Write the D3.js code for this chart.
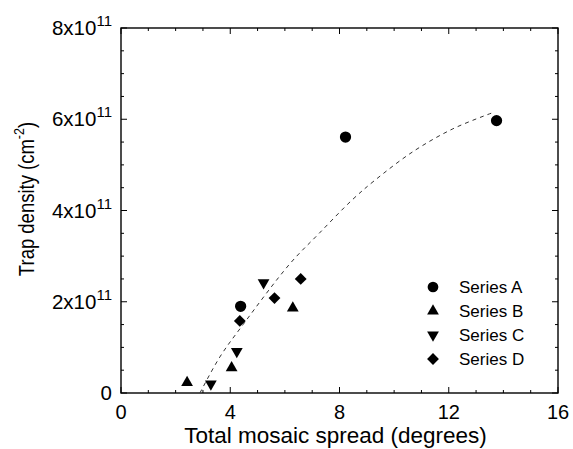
<!DOCTYPE html>
<html>
<head>
<meta charset="utf-8">
<script src="https://cdn.jsdelivr.net/npm/d3@7"></script>
<style>
  body { margin: 0; background: #fff; }
  text { font-family: "Liberation Sans", Arial, sans-serif; fill: #000; }
</style>
</head>
<body>
<div id="container"></div>
<script>
const width = 573, height = 449

const margin = { left: 121, top: 28, right: 15, bottom: 56 }

// values in units of 1e11 cm^-2
const seriesNames = ["Series A", "Series B", "Series C", "Series D"]
const seriesA = [[4.38, 1.90], [8.22, 5.61], [13.75, 5.97]]
const seriesB = [[2.42, 0.23], [4.05, 0.55], [6.29, 1.86]]
const seriesC = [[3.29, 0.20], [4.24, 0.91], [5.22, 2.42]]
const seriesD = [[4.35, 1.58], [5.62, 2.08], [6.58, 2.50]]
const fitCurve = [[2.89, 0], [3.62, 0.79], [4.47, 1.50], [6.18, 2.83], [7.24, 3.49],
    [8.46, 4.23], [9.29, 4.66], [10.69, 5.29], [12.15, 5.79], [13.59, 6.14]]

const xTicks = [0, 4, 8, 12, 16]
const yTicks = [0, 2, 4, 6, 8]

const svg = d3.select('#container').append('svg')
    .attr('width', width).attr('height', height)

const x = d3.scaleLinear().domain([0, 16]).range([margin.left, width - margin.right])
const y = d3.scaleLinear().domain([0, 8]).range([height - margin.bottom, margin.top])

// frame
svg.append('rect')
    .attr('x', x(0)).attr('y', y(8))
    .attr('width', x(16) - x(0)).attr('height', y(0) - y(8))
    .attr('fill', 'none').attr('stroke', '#000').attr('stroke-width', 1.4)

// ticks, inside on all four sides
const xMinor = d3.range(0, 16.01, 1)
const yMinor = d3.range(0, 8.01, 0.5)
xMinor.forEach(v => {
    const len = xTicks.includes(v) ? 6 : 3
    svg.append('line').attr('x1', x(v)).attr('x2', x(v))
        .attr('y1', y(0)).attr('y2', y(0) - len).attr('stroke', '#000')
    svg.append('line').attr('x1', x(v)).attr('x2', x(v))
        .attr('y1', y(8)).attr('y2', y(8) + len).attr('stroke', '#000')
})
yMinor.forEach(v => {
    const len = yTicks.includes(v) ? 6 : 3
    svg.append('line').attr('y1', y(v)).attr('y2', y(v))
        .attr('x1', x(0)).attr('x2', x(0) + len).attr('stroke', '#000')
    svg.append('line').attr('y1', y(v)).attr('y2', y(v))
        .attr('x1', x(16)).attr('x2', x(16) - len).attr('stroke', '#000')
})

// tick labels
svg.selectAll('.xlab').data(xTicks).enter().append('text')
    .attr('x', d => x(d)).attr('y', y(0) + 26)
    .attr('text-anchor', 'middle').attr('font-size', 20)
    .text(d => d)

yTicks.forEach(v => {
    const t = svg.append('text')
        .attr('x', x(0) - 9).attr('y', y(v) + 7)
        .attr('text-anchor', 'end').attr('font-size', 20.5)
    if (v === 0) {
        t.text('0')
    } else {
        t.append('tspan').text(v + 'x10')
        t.append('tspan').attr('font-size', 15).attr('dy', -9).text('11')
    }
})

// axis titles
svg.append('text')
    .attr('x', (x(0) + x(16)) / 2 - 4).attr('y', 443)
    .attr('text-anchor', 'middle').attr('font-size', 22.5)
    .text('Total mosaic spread (degrees)')

const yt = svg.append('text')
    .attr('transform', 'translate(34,199) scale(1.2,1) rotate(-90)')
    .attr('text-anchor', 'middle').attr('font-size', 18.5)
yt.append('tspan').text('Trap density (cm')
yt.append('tspan').attr('font-size', 12.5).attr('dy', -8).text('-2')
yt.append('tspan').attr('dy', 8).text(')')

// fit curve
const line = d3.line().x(d => x(d[0])).y(d => y(d[1])).curve(d3.curveCatmullRom)
svg.append('path')
    .attr('d', line(fitCurve))
    .attr('fill', 'none').attr('stroke', '#333').attr('stroke-width', 1)
    .attr('stroke-dasharray', '4 4')

// markers
const symbols = [
    d3.symbol().type(d3.symbolCircle).size(100),
    d3.symbol().type(d3.symbolTriangle).size(60),
    d3.symbol().type(d3.symbolTriangle).size(60),
    d3.symbol().type(d3.symbolSquare).size(70)
]
const rotations = [0, 0, 180, 45]
const allSeries = [seriesA, seriesB, seriesC, seriesD]

allSeries.forEach((data, i) => {
    svg.selectAll('.s' + i).data(data).enter().append('path')
        .attr('class', 's' + i)
        .attr('d', symbols[i])
        .attr('transform', d => 'translate(' + x(d[0]) + ',' + y(d[1]) + ') rotate(' + rotations[i] + ')')
        .attr('fill', '#000')
})

// legend
const legendY = [287, 311, 335, 359]
seriesNames.forEach((name, i) => {
    const sym = i === 0 ? d3.symbol().type(d3.symbolCircle).size(90) : symbols[i]
    svg.append('path')
        .attr('d', sym)
        .attr('transform', 'translate(433,' + legendY[i] + ') rotate(' + rotations[i] + ')')
        .attr('fill', '#000')
    svg.append('text')
        .attr('x', 459).attr('y', legendY[i] + 6)
        .attr('font-size', 17)
        .text(name)
})
</script>
</body>
</html>
